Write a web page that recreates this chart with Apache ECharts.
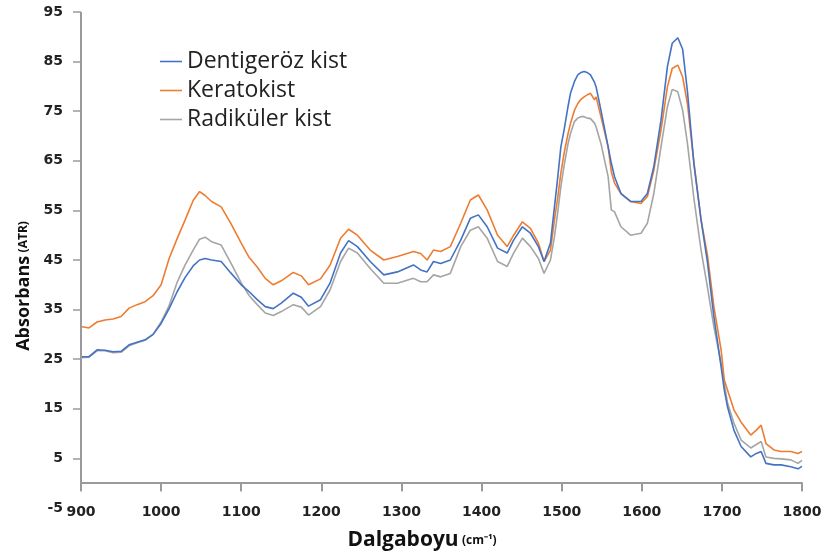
<!DOCTYPE html>
<html>
<head>
<meta charset="utf-8">
<script src="https://cdn.jsdelivr.net/npm/echarts@6/dist/echarts.min.js"></script>
<style>
  html, body { margin: 0; padding: 0; background: #fff; }
  #chart { width: 826px; height: 559px; }
</style>
</head>
<body>
<div id="chart"></div>
<script>
// Wavenumbers (cm-1) shared by all three spectra
const wavenumbers = [
  900, 910, 920, 930, 940, 950, 960, 970, 980, 990,
  1000, 1010, 1020, 1030, 1040, 1048, 1055, 1063, 1075, 1087,
  1100, 1110, 1120, 1130, 1140, 1150, 1165, 1175, 1184, 1199,
  1211, 1224, 1234, 1245, 1261, 1278, 1295, 1315, 1324, 1332,
  1340, 1349, 1361, 1374, 1386, 1396, 1407, 1420, 1432, 1440,
  1451, 1461, 1471, 1478, 1486, 1491, 1495, 1499, 1503, 1508,
  1511, 1516, 1520, 1524, 1528, 1532, 1536, 1541, 1543, 1549,
  1558, 1562, 1566, 1574, 1586, 1599, 1607, 1615, 1624, 1632,
  1638, 1645, 1651, 1657, 1665, 1674, 1682, 1690, 1699, 1703,
  1707, 1715, 1724, 1736, 1743, 1749, 1755, 1765, 1774, 1786,
  1795, 1800
];

const dentigeroz = [
  25.5, 25.5, 26.9, 26.8, 26.5, 26.6, 27.9, 28.4, 28.9, 30.0,
  32.2, 35.2, 38.6, 41.5, 43.8, 45.0, 45.3, 45.0, 44.7, 42.4,
  40.0, 38.6, 37.0, 35.6, 35.2, 36.3, 38.3, 37.5, 35.7, 37.0,
  40.4, 46.4, 48.9, 47.7, 44.7, 42.0, 42.6, 44.0, 43.0, 42.6,
  44.7, 44.3, 45.0, 49.0, 53.4, 54.1, 51.7, 47.4, 46.4, 49.0,
  51.7, 50.4, 47.7, 44.7, 48.4, 55.7, 61.5, 67.8, 71.2, 76.0,
  78.6, 81.0, 82.3, 82.8, 83.0, 82.8, 82.3, 80.8, 79.9, 75.2,
  67.8, 64.5, 61.8, 58.4, 56.8, 56.8, 58.4, 63.8, 73.2, 84.0,
  88.7, 89.8, 87.5, 79.0, 64.5, 53.1, 44.5, 33.6, 23.5, 18.8,
  15.4, 10.7, 7.4, 5.3, 6.0, 6.4, 4.0, 3.7, 3.7, 3.3,
  2.9, 3.4
];

const keratokist = [
  31.6, 31.3, 32.5, 32.9, 33.1, 33.6, 35.3, 36.0, 36.6, 37.8,
  40.0, 45.3, 49.3, 53.1, 57.0, 58.8, 58.0, 56.8, 55.7, 52.4,
  48.4, 45.5, 43.6, 41.3, 40.0, 40.8, 42.5, 41.8, 40.0, 41.2,
  44.0, 49.4, 51.2, 50.0, 47.0, 45.0, 45.7, 46.7, 46.3, 45.0,
  47.0, 46.7, 47.7, 52.4, 57.1, 58.1, 55.1, 50.0, 47.7, 50.0,
  52.7, 51.4, 48.4, 44.7, 47.0, 53.1, 57.5, 62.5, 66.5, 70.5,
  72.5, 75.2, 76.5, 77.4, 77.9, 78.3, 78.6, 77.3, 77.9, 73.9,
  67.8, 62.8, 60.5, 58.4, 56.8, 56.4, 57.8, 63.1, 71.2, 79.9,
  83.6, 84.3, 81.9, 76.5, 64.8, 53.1, 46.0, 35.6, 26.9, 20.8,
  18.8, 14.8, 12.3, 9.7, 10.7, 11.7, 8.0, 6.7, 6.4, 6.4,
  6.0, 6.4
];

const radikuler = [
  25.3, 25.4, 26.7, 26.7, 26.3, 26.4, 27.7, 28.3, 28.8, 30.0,
  32.5, 35.8, 40.5, 44.0, 47.0, 49.2, 49.6, 48.7, 48.0, 44.4,
  40.4, 37.8, 36.0, 34.3, 33.8, 34.6, 36.0, 35.5, 33.9, 35.6,
  39.0, 44.7, 47.4, 46.4, 43.3, 40.3, 40.3, 41.3, 40.6, 40.6,
  42.0, 41.6, 42.3, 47.7, 51.0, 51.7, 49.4, 44.7, 43.7, 46.4,
  49.4, 47.7, 45.3, 42.3, 45.0, 49.7, 54.5, 59.8, 64.0, 68.5,
  70.5, 72.9, 73.6, 73.9, 73.9, 73.6, 73.5, 72.6, 71.8, 68.5,
  61.8, 55.1, 54.7, 51.7, 50.0, 50.4, 52.4, 58.4, 67.8, 75.9,
  79.4, 78.9, 75.2, 68.5, 57.5, 47.0, 39.5, 31.5, 24.2, 20.0,
  16.2, 12.1, 8.7, 7.1, 7.8, 8.4, 5.3, 5.0, 4.9, 4.7,
  4.0, 4.6
];

const seriesNames = ['Dentigeröz kist', 'Keratokist', 'Radiküler kist'];
const seriesColors = ['#4472C4', '#ED7D31', '#A5A5A5'];
const xTickValues = [900, 1000, 1100, 1200, 1300, 1400, 1500, 1600, 1700, 1800];
const yTickValues = [5, 15, 25, 35, 45, 55, 65, 75, 85, 95];

const pairs = (ys) => wavenumbers.map((x, i) => [x, ys[i]]);

const axisGray = '#9A9A9A';
const labelFont = { color: '#222', fontFamily: 'DejaVu Sans', fontWeight: 'bold', fontSize: 14 };
const plainNumber = (v) => String(v);
const tickLengthPx = 8;

const chart = echarts.init(document.getElementById('chart'), null, { renderer: 'canvas' });

const lineSeries = [dentigeroz, keratokist, radikuler].map((ys, i) => ({
  name: seriesNames[i],
  type: 'line',
  data: pairs(ys),
  symbol: 'none',
  clip: false,
  lineStyle: { color: seriesColors[i], width: 1.6 },
  itemStyle: { color: seriesColors[i] },
  z: 3 - i,
  animation: false
}));

// Axis frame drawn as marker lines: vertical axis from 0 to the top, horizontal axis at 0
function axisFrame(tickDepth) {
  const segs = [
    [{ coord: [900, 0] }, { coord: [900, 95] }],
    [{ coord: [900, 0] }, { coord: [1800, 0] }]
  ];
  if (tickDepth !== null) {
    xTickValues.forEach((x) => segs.push([{ coord: [x, 0] }, { coord: [x, tickDepth] }]));
  }
  return {
    silent: true,
    symbol: 'none',
    animation: false,
    label: { show: false },
    emphasis: { disabled: true },
    lineStyle: { color: axisGray, width: 2, type: 'solid' },
    data: segs
  };
}
lineSeries[0].markLine = axisFrame(null);

chart.setOption({
  backgroundColor: '#fff',
  animation: false,
  grid: { left: 81, right: 24, top: 12, bottom: 51 },
  legend: {
    data: seriesNames,
    orient: 'vertical',
    left: 160,
    top: 47,
    padding: 0,
    itemGap: 0,
    icon: 'rect',
    itemWidth: 22,
    itemHeight: 1.6,
    textStyle: { fontFamily: 'Open Sans', fontSize: 23, color: '#222', lineHeight: 29 }
  },
  xAxis: {
    type: 'value',
    min: 900,
    max: 1800,
    interval: 100,
    splitLine: { show: false },
    axisLine: { show: true, onZero: true, lineStyle: { color: axisGray, width: 2 } },
    axisTick: { show: true, inside: false, length: tickLengthPx, lineStyle: { color: axisGray, width: 2 } },
    axisLabel: Object.assign({ margin: -3, formatter: plainNumber }, labelFont),
    name: '{a|Dalgaboyu} {b|(cm⁻¹)}',
    nameLocation: 'middle',
    nameGap: 22,
    nameTextStyle: {
      color: '#111',
      padding: [0, 39, 0, 0],
      rich: {
        a: { fontFamily: 'Open Sans', fontWeight: 'bold', fontSize: 21, color: '#111' },
        b: { fontFamily: 'Open Sans', fontWeight: 'bold', fontSize: 12, color: '#111' }
      }
    }
  },
  yAxis: {
    type: 'value',
    min: -5,
    max: 95,
    interval: 10,
    splitLine: { show: false },
    axisLine: { show: true, lineStyle: { color: axisGray, width: 1.5, opacity: 0 } },
    axisTick: {
      show: true, inside: false, length: tickLengthPx,
      customValues: yTickValues,
      lineStyle: { color: axisGray, width: 1.5 }
    },
    axisLabel: Object.assign({ margin: 18, formatter: plainNumber }, labelFont),
    name: '{a|Absorbans} {b|(ATR)}',
    nameLocation: 'middle',
    nameGap: 44,
    nameRotate: 90,
    nameTextStyle: {
      color: '#111',
      padding: [0, 52, 0, 0],
      rich: {
        a: { fontFamily: 'Open Sans', fontWeight: 'bold', fontSize: 18, color: '#111' },
        b: { fontFamily: 'Open Sans', fontWeight: 'bold', fontSize: 12, color: '#111' }
      }
    }
  },
  series: lineSeries
});

// Tick marks hang below the horizontal axis by a fixed pixel length
const zeroPx = chart.convertToPixel({ yAxisIndex: 0 }, 0);
const tickDepth = chart.convertFromPixel({ yAxisIndex: 0 }, zeroPx + tickLengthPx);
chart.setOption({ series: [{ markLine: axisFrame(tickDepth) }] });
</script>
</body>
</html>
